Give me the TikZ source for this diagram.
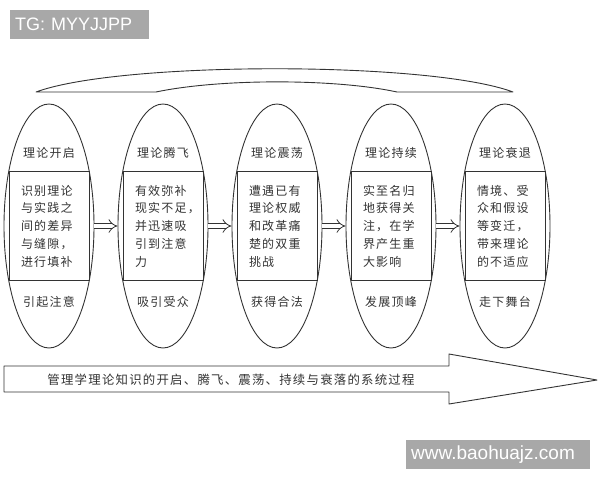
\documentclass[tikz,border=0pt]{standalone}
\usepackage{fontspec}
\setmainfont{Noto Sans CJK SC}[LetterSpace=10]
\newfontfamily\markfont{Liberation Sans}
\usetikzlibrary{shapes.geometric,arrows.meta}
\definecolor{ink}{HTML}{333333}
\definecolor{wgray}{HTML}{A8A8A8}

\begin{document}
\begin{tikzpicture}[x=1pt,y=-1pt,
    stage/.style={ellipse,draw=ink,line width=0.9pt,minimum width=90pt,minimum height=244pt,inner sep=0pt},
    core/.style={rectangle,draw=ink,line width=0.9pt,minimum width=80pt,minimum height=109pt,inner sep=0pt},
    body/.style={text=ink,text width=56pt,align=left,inner sep=0pt,font=\fontsize{12}{17.75}\selectfont},
    lbl/.style={text=ink,inner sep=0pt,font=\fontsize{12}{14}\selectfont},
    push/.style={draw=ink,double=white,double distance=4pt,line width=0.8pt,-{Implies}},
    wbox/.style={fill=wgray,text=white,anchor=north west,align=left,inner xsep=5pt,inner ysep=0pt,minimum height=29pt},
    outline/.style={draw=ink,line width=0.9pt,line join=round},]
\useasboundingbox (0,0) rectangle (600,480);
% watermarks
\node[wbox,text width=129pt,font=\markfont\fontsize{18}{20}\selectfont] (tg) at (10,10) {TG: MYYJJPP};
\node[wbox,text width=174pt,font=\markfont\fontsize{19}{21}\selectfont] (web) at (406,440) {www.baohuajz.com};
% top curved band
\draw[outline] (36,92) -- (156,92) .. controls (220,78.5) and (335,78.5) .. (397,92)
    -- (513,92) .. controls (430,61) and (120,61) .. cycle;
% stages
\node[stage] (e1) at (49,226) {};
\node[stage] (e2) at (163,226) {};
\node[stage] (e3) at (277,226) {};
\node[stage] (e4) at (391,226) {};
\node[stage] (e5) at (505,226) {};
\node[core] (c1) at (e1) {};
\node[core] (c2) at (e2) {};
\node[core] (c3) at (e3) {};
\node[core] (c4) at (e4) {};
\node[core] (c5) at (e5) {};
\node[lbl] (t1) at (49,153) {理论开启};
\node[lbl] (t2) at (163,153) {理论腾飞};
\node[lbl] (t3) at (277,153) {理论震荡};
\node[lbl] (t4) at (391,153) {理论持续};
\node[lbl] (t5) at (505,153) {理论衰退};
\node[body] (b1) at (c1) {识别理论\\与实践之\\间的差异\\与缝隙，\\进行填补};
\node[body] (b2) at (c2) {有效弥补\\现实不足，\\并迅速吸\\引到注意\\力};
\node[body] (b3) at (c3) {遭遇已有\\理论权威\\和改革痛\\楚的双重\\挑战};
\node[body] (b4) at (c4) {实至名归\\地获得关\\注，在学\\界产生重\\大影响};
\node[body] (b5) at (c5) {情境、受\\众和假设\\等变迁，\\带来理论\\的不适应};
\node[lbl] (r1) at (49,302) {引起注意};
\node[lbl] (r2) at (163,302) {吸引受众};
\node[lbl] (r3) at (277,302) {获得合法};
\node[lbl] (r4) at (391,302) {发展顶峰};
\node[lbl] (r5) at (505,302) {走下舞台};
\foreach \a/\b in {1/2,2/3,3/4,4/5}
    \draw[push] (e\a) -- (e\b);
% process arrow
\draw[outline] (4,366) -- (449,366) -- (449,354) -- (597,380) -- (449,404) -- (449,392) -- (4,392) -- cycle;
\node[lbl,font=\fontsize{12.4}{14}\selectfont] (flow) at (231,380) {管理学理论知识的开启、腾飞、震荡、持续与衰落的系统过程};
\end{tikzpicture}
\end{document}
